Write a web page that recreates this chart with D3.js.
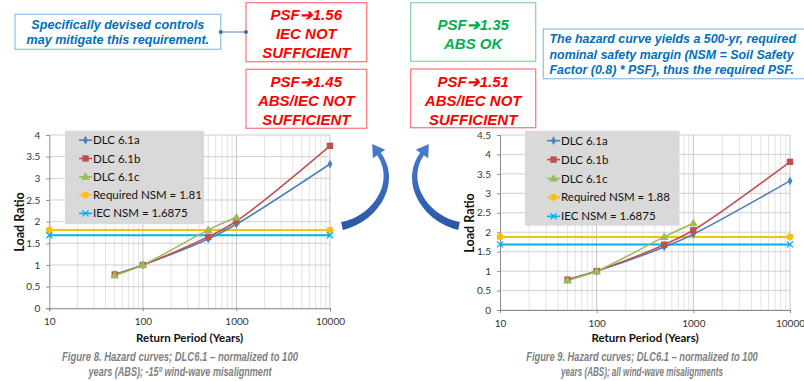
<!DOCTYPE html>
<html><head><meta charset="utf-8">
<script src="https://cdn.jsdelivr.net/npm/d3@7/dist/d3.min.js"></script>
<style>
html,body{margin:0;padding:0;background:#fff;}
svg{display:block;}
</style></head>
<body>
<svg id="c" width="804" height="381"></svg>
<script>
// ---------- DATA ----------
const years = [50, 100, 500, 1000, 10000];
const yearsC = [50, 100, 500, 1000];
const xTicks = [10, 100, 1000, 10000];
const seriesNames = ["DLC 6.1a", "DLC 6.1b", "DLC 6.1c"];
// Figure 8 (left)
const dlcA_L = [0.78, 1.0, 1.60, 1.94, 3.33];
const dlcB_L = [0.78, 1.0, 1.65, 2.01, 3.75];
const dlcC_L = [0.76, 1.0, 1.81, 2.10];
const reqNSM_L = 1.81;
const yTicks_L = [0, 0.5, 1, 1.5, 2, 2.5, 3, 3.5, 4];
// Figure 9 (right)
const dlcA_R = [0.78, 1.0, 1.62, 1.95, 3.32];
const dlcB_R = [0.78, 1.0, 1.68, 2.05, 3.81];
const dlcC_R = [0.76, 1.0, 1.88, 2.23];
const reqNSM_R = 1.88;
const yTicks_R = [0, 0.5, 1, 1.5, 2, 2.5, 3, 3.5, 4, 4.5];
const iecNSM = 1.6875;
const captions_L = ["Figure 8. Hazard curves; DLC6.1 \u2013 normalized to 100", "years (ABS); -15\u00ba wind-wave misalignment"];
const captions_R = ["Figure 9. Hazard curves; DLC6.1 \u2013 normalized to 100", "years (ABS); all wind-wave misalignments"];

const colA = "#4f81bd", colB = "#c0504d", colC = "#9bbb59", colReq = "#ffc000", colIEC = "#00b0f0";
const chartFont = "Lato, 'Open Sans', sans-serif";
const boxFont = "'Liberation Sans', Arial, sans-serif";

const svg = d3.select("#c");
const defs = svg.append("defs");
const grad = defs.append("linearGradient").attr("id","ag").attr("x1","0").attr("y1","0").attr("x2","0").attr("y2","1");
grad.append("stop").attr("offset","0").attr("stop-color","#4a7bd0");
grad.append("stop").attr("offset","1").attr("stop-color","#2a56a8");

function marker(g, type, x, y, color) {
  if (type === "diamond") {
    g.append("path").attr("d", d3.symbol(d3.symbolDiamond, 22)()).attr("transform", `translate(${x},${y})`).attr("fill", color);
  } else if (type === "square") {
    g.append("rect").attr("x", x-3.2).attr("y", y-3.2).attr("width", 6.4).attr("height", 6.4).attr("fill", color);
  } else if (type === "triangle") {
    g.append("path").attr("d", d3.symbol(d3.symbolTriangle, 34)()).attr("transform", `translate(${x},${y+0.5})`).attr("fill", color);
  } else if (type === "circle") {
    g.append("circle").attr("cx", x).attr("cy", y).attr("r", 3.3).attr("fill", color);
  } else if (type === "x") {
    g.append("path").attr("d", `M${x-3},${y-3}L${x+3},${y+3}M${x-3},${y+3}L${x+3},${y-3}`).attr("stroke", color).attr("stroke-width", 1.3);
  }
}

function drawChart(cfg) {
  const x = d3.scaleLog().domain([10, 10000]).range([cfg.x0, cfg.x1]);
  const y = d3.scaleLinear().domain([0, cfg.yMax]).range([cfg.y0, cfg.y1]);
  const g = svg.append("g");

  const minors = [];
  [10, 100, 1000].forEach(d => { for (let k = 2; k <= 9; k++) minors.push(d*k); });
  g.selectAll(".mv").data(minors).enter().append("line")
    .attr("x1", d => x(d)).attr("x2", d => x(d)).attr("y1", y(0)).attr("y2", y(cfg.yMax))
    .attr("stroke", "#e3e3e3").attr("stroke-width", 1);
  g.selectAll(".hg").data(cfg.yTicks).enter().append("line")
    .attr("x1", x(10)).attr("x2", x(10000)).attr("y1", d => y(d)).attr("y2", d => y(d))
    .attr("stroke", "#d0d0d0").attr("stroke-width", 1);
  g.selectAll(".Mv").data(xTicks.slice(1)).enter().append("line")
    .attr("x1", d => x(d)).attr("x2", d => x(d)).attr("y1", y(0)).attr("y2", y(cfg.yMax))
    .attr("stroke", "#c4c4c4").attr("stroke-width", 1);

  const ay = g.append("g").attr("transform", `translate(${x(10)},0)`)
    .call(d3.axisLeft(y).tickValues(cfg.yTicks).tickSize(3).tickPadding(6).tickFormat(d3.format("")));
  const ax = g.append("g").attr("transform", `translate(0,${y(0)})`)
    .call(d3.axisBottom(x).tickValues(xTicks).tickSize(3).tickPadding(7).tickFormat(d3.format("")));
  [ax, ay].forEach(a => {
    a.select(".domain").attr("stroke", "#8c8c8c");
    a.selectAll(".tick line").attr("stroke", "#8c8c8c");
    a.selectAll("text").attr("font-family", chartFont).attr("font-size", 10).attr("fill", "#333");
  });

  g.append("text").attr("transform", `translate(${cfg.yTitleX},${cfg.yTitleY}) rotate(-90)`)
    .attr("text-anchor", "middle").attr("font-family", chartFont).attr("font-weight", "bold")
    .attr("font-size", 12.5).attr("fill", "#111").text("Load Ratio");
  g.append("text").attr("x", (cfg.x0 + cfg.x1)/2).attr("y", 342)
    .attr("text-anchor", "middle").attr("font-family", chartFont).attr("font-weight", "bold")
    .attr("font-size", 11.5).attr("fill", "#111").text("Return Period (Years)");

  [[cfg.req, colReq, "circle"], [iecNSM, colIEC, "x"]].forEach(([v, c, m]) => {
    g.append("line").attr("x1", x(10)).attr("x2", x(10000)).attr("y1", y(v)).attr("y2", y(v))
      .attr("stroke", c).attr("stroke-width", 2);
    marker(g, m, x(10), y(v), c);
    marker(g, m, x(10000), y(v), c);
  });

  const line = d3.line().x(d => x(d[0])).y(d => y(d[1])).curve(d3.curveCatmullRom.alpha(0.5));
  const ser = [
    [years, cfg.a, colA, "diamond"],
    [years, cfg.b, colB, "square"],
    [yearsC, cfg.c, colC, "triangle"]
  ];
  ser.forEach(([xs, vs, c]) => {
    const pts = xs.map((d, i) => [d, vs[i]]);
    g.append("path").attr("d", line(pts)).attr("fill", "none").attr("stroke", c).attr("stroke-width", 1.6);
  });
  ser.forEach(([xs, vs, c, m]) => {
    xs.forEach((d, i) => marker(g, m, x(d), y(vs[i]), c));
  });

  const L = cfg.leg;
  g.append("rect").attr("x", L.x).attr("y", L.y).attr("width", L.w).attr("height", L.h).attr("fill", "#d9d9d9");
  const items = [
    [seriesNames[0], colA, "diamond"],
    [seriesNames[1], colB, "square"],
    [seriesNames[2], colC, "triangle"],
    [`Required NSM = ${cfg.req}`, colReq, "circle"],
    [`IEC NSM = ${iecNSM}`, colIEC, "x"]
  ];
  items.forEach((it, i) => {
    const yy = L.y + L.first + i * L.step;
    g.append("line").attr("x1", L.lx).attr("x2", L.lx + 13).attr("y1", yy).attr("y2", yy)
      .attr("stroke", it[1]).attr("stroke-width", 1.6);
    marker(g, it[2], L.lx + 6.5, yy, it[1]);
    g.append("text").attr("x", L.lx + 14).attr("y", yy + 4).attr("font-family", chartFont)
      .attr("font-size", 11.5).attr("fill", "#111").text(it[0]);
  });

  // captions: narrow look obtained by horizontal scaling to the measured reference width
  cfg.caps.forEach((t, i) => {
    const tx = g.append("text").attr("x", 0).attr("y", 0).attr("text-anchor", "middle")
      .attr("font-family", boxFont).attr("font-weight", "bold").attr("font-style", "italic")
      .attr("font-size", 13.5).attr("fill", "#7f7f7f").text(t);
    const len = tx.node().getComputedTextLength();
    const s = cfg.capW[i] / len;
    tx.attr("transform", `translate(${cfg.capX},${361 + i * 15}) scale(${s},1)`);
  });
}

drawChart({x0: 49.3, x1: 330, y0: 308.3, y1: 135, yMax: 4, yTicks: yTicks_L,
  a: dlcA_L, b: dlcB_L, c: dlcC_L, req: reqNSM_L, yTitleX: 24, yTitleY: 222,
  leg: {x: 65, y: 130.7, w: 139, h: 93.5, first: 9.5, step: 18.3, lx: 79},
  caps: captions_L, capX: 180, capW: [236, 183]});
drawChart({x0: 500, x1: 790, y0: 310, y1: 135, yMax: 4.5, yTicks: yTicks_R,
  a: dlcA_R, b: dlcB_R, c: dlcC_R, req: reqNSM_R, yTitleX: 474, yTitleY: 223,
  leg: {x: 525, y: 130.7, w: 154.5, h: 95, first: 10, step: 18.9, lx: 547},
  caps: captions_R, capX: 642, capW: [232, 162]});

// ---------- annotation boxes ----------
function box(x, y, w, h, stroke, color, lines, fs, lh, anchor, tx, ty) {
  svg.append("rect").attr("x", x).attr("y", y).attr("width", w).attr("height", h)
    .attr("fill", "#fff").attr("stroke", stroke).attr("stroke-width", 1.3);
  lines.forEach((t, i) => {
    svg.append("text").attr("x", tx).attr("y", ty + i * lh).attr("text-anchor", anchor)
      .attr("font-family", boxFont).attr("font-weight", "bold").attr("font-style", "italic")
      .attr("font-size", fs).attr("fill", color).text(t);
  });
}
const red = "#ff0000", redB = "#ff7c80", green = "#00b050", greenB = "#8fd6a8", blue = "#0070c0", blueB = "#9dc3e6";
const arrow = "\u2794";
box(15, 14.3, 205.7, 35, blueB, blue, ["Specifically devised controls", "may mitigate this requirement."], 12.6, 15.5, "middle", 117.8, 28.5);
box(246, 2.7, 120.7, 59, redB, red, [`PSF${arrow}1.56`, "IEC NOT", "SUFFICIENT"], 15, 19, "middle", 306.3, 20);
box(246, 69.3, 120.7, 59, redB, red, [`PSF${arrow}1.45`, "ABS/IEC NOT", "SUFFICIENT"], 15, 19, "middle", 306.3, 87);
box(410.7, 2.7, 125, 58.6, greenB, green, [`PSF${arrow}1.35`, "ABS OK"], 15, 19, "middle", 473.2, 29.5);
box(410.7, 69, 125, 58.7, redB, red, [`PSF${arrow}1.51`, "ABS/IEC NOT", "SUFFICIENT"], 15, 19, "middle", 473.2, 86.5);
box(543.3, 29, 262, 49.7, blueB, blue, ["The hazard curve yields a 500-yr, required", "nominal safety margin (NSM = Soil Safety", "Factor (0.8) * PSF), thus the required PSF."], 12.4, 15.6, "start", 549.5, 43);

svg.append("line").attr("x1", 220.7).attr("x2", 246).attr("y1", 32).attr("y2", 32).attr("stroke", "#4f81bd").attr("stroke-width", 1);
[220.7, 246].forEach(cx => svg.append("circle").attr("cx", cx).attr("cy", 32).attr("r", 2).attr("fill", "#2e75b6"));

// ---------- curved arrows ----------
function curvedArrow(P, mirror) {
  const bz = (t, a, b, c, d) => (1-t)**3*a + 3*(1-t)**2*t*b + 3*(1-t)*t*t*c + t**3*d;
  const dbz = (t, a, b, c, d) => 3*(1-t)**2*(b-a) + 6*(1-t)*t*(c-b) + 3*t*t*(d-c);
  const N = 40, left = [], right = [];
  for (let i = 0; i <= N; i++) {
    const t = i / N;
    const px = bz(t, P[0][0], P[1][0], P[2][0], P[3][0]);
    const py = bz(t, P[0][1], P[1][1], P[2][1], P[3][1]);
    let dx = dbz(t, P[0][0], P[1][0], P[2][0], P[3][0]);
    let dy = dbz(t, P[0][1], P[1][1], P[2][1], P[3][1]);
    const L = Math.hypot(dx, dy); dx /= L; dy /= L;
    const w = (8 - 3.5 * t) / 2;
    left.push([px - dy * w, py + dx * w]);
    right.push([px + dy * w, py - dx * w]);
  }
  const e = P[3];
  let dx = P[3][0] - P[2][0], dy = P[3][1] - P[2][1];
  const L = Math.hypot(dx, dy); dx /= L; dy /= L;
  const hw = 7.5, hl = 12;
  const b1 = [e[0] - dy * hw, e[1] + dx * hw], b2 = [e[0] + dy * hw, e[1] - dx * hw];
  const tip = [e[0] + dx * hl, e[1] + dy * hl];
  const pts = left.concat([b1, tip, b2]).concat(right.reverse());
  const tr = mirror ? pts.map(p => [801 - p[0], p[1]]) : pts;
  svg.append("path").attr("d", "M" + tr.map(p => p.join(",")).join("L") + "Z").attr("fill", "url(#ag)");
}
const arrowPath = [[342, 226], [375, 219], [399, 183], [379, 154]];
curvedArrow(arrowPath, false);
curvedArrow(arrowPath, true);
</script>
</body></html>
